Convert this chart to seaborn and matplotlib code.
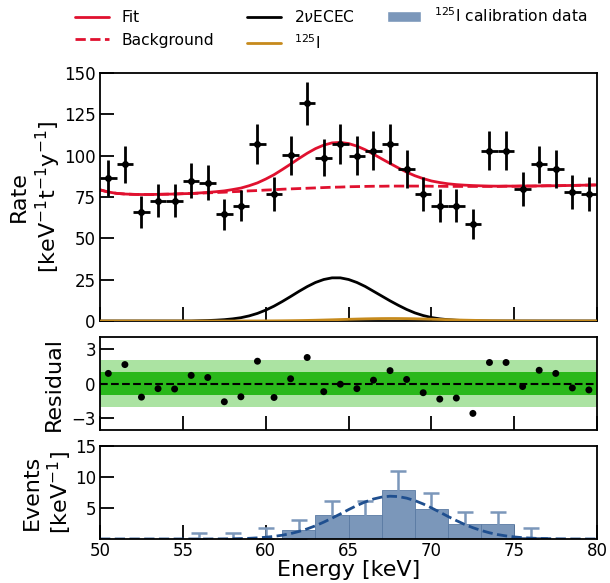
import numpy as np
import matplotlib
matplotlib.use("Agg")
import matplotlib.pyplot as plt
import seaborn as sns
from matplotlib.lines import Line2D
from matplotlib.patches import Patch

# --- data --------------------------------------------------------------
# top panel: measured rate per 1 keV bin
bin_centers = [50.5, 51.5, 52.5, 53.5, 54.5, 55.5, 56.5, 57.5, 58.5, 59.5,
               60.5, 61.5, 62.5, 63.5, 64.5, 65.5, 66.5, 67.5, 68.5, 69.5,
               70.5, 71.5, 72.5, 73.5, 74.5, 75.5, 76.5, 77.5, 78.5, 79.5]
rate = [86.5, 94.8, 65.7, 72.8, 72.8, 84.9, 83.7, 64.5, 69.8, 107.1,
        76.6, 100.2, 131.7, 98.8, 107.1, 100.0, 103.0, 107.1, 91.8, 76.8,
        69.8, 69.8, 58.7, 103.0, 103.0, 79.7, 94.8, 91.8, 78.2, 76.8]
rate_err = [11.1, 11.3, 9.6, 9.8, 9.8, 10.6, 10.6, 9.3, 9.6, 12.1,
            10.2, 11.8, 13.1, 11.3, 12.1, 11.8, 11.8, 12.0, 11.4, 10.2,
            9.8, 9.8, 8.9, 11.8, 11.8, 10.3, 11.3, 11.4, 10.3, 10.2]

# model curves sampled every 0.5 keV
energy = np.arange(50, 80.5, 0.5)
background = [79.3, 78.0, 77.2, 76.8, 76.6, 76.5, 76.5, 76.6, 76.7, 76.8,
              77.0, 77.1, 77.3, 77.5, 77.7, 77.9, 78.2, 78.4, 78.7, 78.9,
              79.2, 79.4, 79.7, 79.9, 80.1, 80.3, 80.5, 80.7, 80.9, 81.0,
              81.2, 81.3, 81.4, 81.5, 81.5, 81.6, 81.6, 81.6, 81.6, 81.6,
              81.5, 81.5, 81.4, 81.4, 81.4, 81.4, 81.4, 81.4, 81.4, 81.5,
              81.5, 81.6, 81.6, 81.7, 81.8, 81.8, 81.9, 82.0, 82.1, 82.2,
              82.3]
ecec = [0, 0, 0, 0, 0, 0, 0, 0, 0, 0, 0, 0,
        0.15, 0.28, 0.5, 0.8, 1.3, 2.0, 3.1, 4.6, 6.6, 9.0,
        11.8, 14.8, 17.9, 20.8, 23.3, 25.1, 26.1, 26.1, 25.1, 23.3,
        20.9, 18.0, 15.1, 12.2, 9.5, 7.0, 4.9, 3.3, 2.1, 1.3,
        0.8, 0.45, 0.25, 0.12, 0.05,
        0, 0, 0, 0, 0, 0, 0, 0, 0, 0, 0, 0, 0, 0]
iodine = [0, 0, 0, 0, 0, 0, 0, 0, 0, 0, 0, 0, 0, 0, 0, 0, 0, 0,
          0.03, 0.04, 0.06, 0.09, 0.13, 0.19, 0.26, 0.35, 0.46, 0.59,
          0.73, 0.88, 1.03, 1.17, 1.30, 1.40, 1.47, 1.50, 1.49, 1.44,
          1.35, 1.23, 1.09, 0.94, 0.79, 0.64, 0.51, 0.40, 0.30, 0.21,
          0.15, 0.10, 0.07, 0.04, 0.03,
          0, 0, 0, 0, 0, 0, 0, 0]
fit = np.array(background) + np.array(ecec) + np.array(iodine)

# middle panel: residuals
residual = [0.87, 1.63, -1.17, -0.44, -0.47, 0.70, 0.52, -1.57, -1.14, 1.92,
            -1.20, 0.41, 2.24, -0.70, -0.06, -0.44, 0.29, 1.11, 0.35, -0.79,
            -1.34, -1.25, -2.57, 1.81, 1.81, -0.26, 1.14, 0.87, -0.38, -0.55]

# bottom panel: 125I calibration histogram (2 keV bins)
calib_centers = [56, 58, 60, 62, 64, 66, 68, 70, 72, 74, 76]
calib_counts = [0, 0, 0, 1.5, 3.9, 3.9, 7.9, 4.9, 2.45, 2.45, 0.35]
calib_err_lo = [0, 0, 0, 1.5, 2.25, 2.25, 3.05, 2.45, 1.9, 1.9, 0.35]
calib_err_hi = [0.95, 0.95, 1.7, 1.55, 2.3, 2.3, 3.05, 2.55, 1.85, 1.85, 1.35]
calib_fit = [0, 0, 0, 0, 0, 0, 0, 0, 0, 0, 0, 0, 0, 0,
             0.01, 0.02, 0.04, 0.07, 0.11, 0.18, 0.28, 0.42, 0.61, 0.87,
             1.21, 1.63, 2.13, 2.72, 3.36, 4.04, 4.74, 5.40, 5.98, 6.45,
             6.76, 6.90, 6.84, 6.59, 6.19, 5.65, 5.01, 4.33, 3.63, 2.97,
             2.35, 1.82, 1.37, 1.00, 0.71, 0.49, 0.33, 0.21, 0.14, 0.08,
             0.05, 0.03, 0.02, 0, 0, 0, 0]

# --- style ---------------------------------------------------------------
sns.set_style("white")
plt.rcParams["font.family"] = ["DejaVu Sans"]
plt.rcParams["mathtext.fontset"] = "dejavusans"
plt.rcParams["text.color"] = "black"
plt.rcParams["axes.labelcolor"] = "black"
plt.rcParams["xtick.color"] = "black"
plt.rcParams["ytick.color"] = "black"

red = "#e0112f"
orange = "#c68a1c"
blue_bar = "#7b97ba"
blue_line = "#1f4f8f"

fig = plt.figure(figsize=(6.1, 5.83), dpi=100)
ax1 = fig.add_axes([0.164, 0.4494, 0.815, 0.4254])
ax2 = fig.add_axes([0.164, 0.2624, 0.815, 0.1595])
ax3 = fig.add_axes([0.164, 0.0755, 0.815, 0.1595])

# top panel
sns.lineplot(x=energy, y=ecec, ax=ax1, color="black", lw=2, zorder=3)
sns.lineplot(x=energy, y=iodine, ax=ax1, color=orange, lw=2, zorder=3.1)
sns.lineplot(x=energy, y=background, ax=ax1, color=red, lw=2, linestyle="--")
sns.lineplot(x=energy, y=fit, ax=ax1, color=red, lw=2)
ax1.errorbar(bin_centers, rate, yerr=rate_err, xerr=0.5, fmt="o", color="black",
             ms=4, elinewidth=2, capsize=0, zorder=5)
ax1.set_ylim(0, 150)
ax1.set_yticks([0, 25, 50, 75, 100, 125, 150])
ax1.set_ylabel("Rate\n[keV$^{-1}$t$^{-1}$y$^{-1}$]", fontsize=16)

# residual panel
ax2.axhspan(-2, 2, color="#abe3a2", lw=0)
ax2.axhspan(-1, 1, color="#2ab81b", lw=0)
ax2.axhline(0, color="black", ls="--", lw=1.5)
sns.scatterplot(x=bin_centers, y=residual, ax=ax2, color="black", s=25,
                edgecolor="none", zorder=5)
ax2.set_ylim(-4, 4)
ax2.set_yticks([-3, 0, 3])
ax2.set_ylabel("Residual", fontsize=16)

# calibration panel
ax3.bar(calib_centers, calib_counts, width=2, color=blue_bar,
        edgecolor="#5a7aa3", linewidth=0.6)
ax3.errorbar(calib_centers, calib_counts, yerr=[calib_err_lo, calib_err_hi],
             fmt="none", ecolor=blue_bar, elinewidth=1.8, capsize=6, capthick=1.8)
sns.lineplot(x=energy, y=calib_fit, ax=ax3, color=blue_line, lw=2, linestyle="--")
ax3.set_ylim(0, 15)
ax3.set_yticks([5, 10, 15])
ax3.set_ylabel("Events\n[keV$^{-1}$]", fontsize=16)
ax3.set_xlabel("Energy [keV]", fontsize=16, labelpad=0)

for ax in (ax1, ax2, ax3):
    ax.set_xlim(50, 80)
    ax.set_xticks([50, 55, 60, 65, 70, 75, 80])
    ax.tick_params(direction="in", length=10, width=1.3, labelsize=12,
                   bottom=True, left=True, top=False, right=False, pad=3)
    for s in ax.spines.values():
        s.set_linewidth(1.3)
        s.set_color("black")
ax1.tick_params(labelbottom=False)
ax2.tick_params(labelbottom=False)
ax3.tick_params(axis="x", pad=2)

ax1.yaxis.set_label_coords(-0.075, 0.5)
ax2.yaxis.set_label_coords(-0.072, 0.5)
ax3.yaxis.set_label_coords(-0.052, 0.5)

handles = [Line2D([], [], color=red, lw=2),
           Line2D([], [], color=red, lw=2, ls="--"),
           Line2D([], [], color="black", lw=2),
           Line2D([], [], color=orange, lw=2),
           Patch(facecolor=blue_bar)]
labels = ["Fit", "Background", r"2$\nu$ECEC", r"$^{125}$I",
          r"$^{125}$I calibration data"]
fig.legend(handles, labels, ncol=3, loc="upper left", bbox_to_anchor=(0.1, 1.013),
           frameon=False, fontsize=11.2, handlelength=2.2, columnspacing=2.1)

fig.savefig("out.png", dpi=100)
